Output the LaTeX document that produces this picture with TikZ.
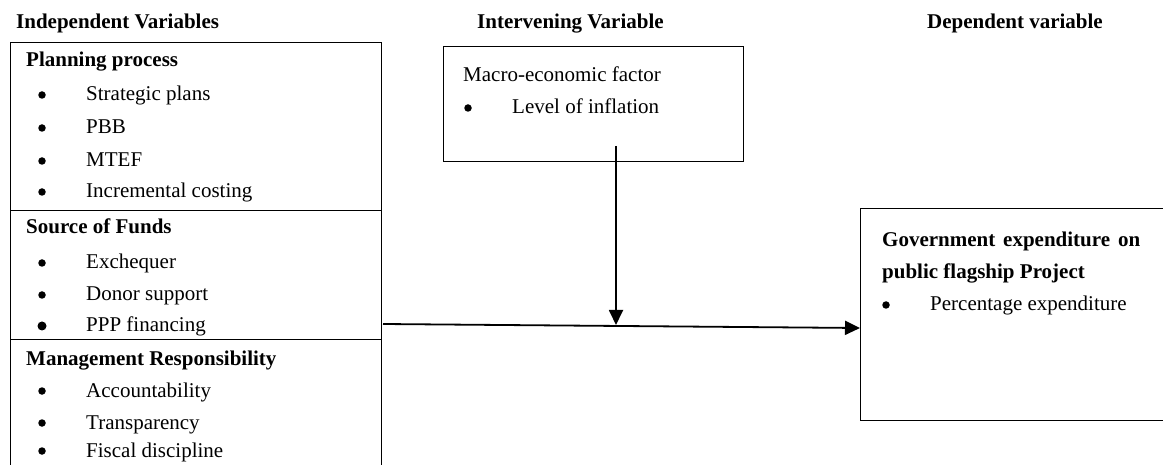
\documentclass[tikz,border=0pt]{standalone}
\usepackage{fontspec}
\setmainfont{Liberation Serif}
\usetikzlibrary{arrows.meta}
\begin{document}
\begin{tikzpicture}[x=1pt,y=-1pt,
  boxstyle/.style={draw=black,line width=1.3pt,minimum width=#1,inner sep=0pt,anchor=north west},
  txt/.style={anchor=base west,inner sep=0pt,font=\fontsize{21}{25}\selectfont},
  hd/.style={txt,font=\fontsize{21}{25}\selectfont\bfseries},
  bul/.style={circle,fill=black,inner sep=0pt,minimum size=7.5pt},
  bigbul/.style={circle,fill=black,inner sep=0pt,minimum size=9pt},
  conn/.style={line width=1.8pt,-{Triangle[length=15pt,width=14pt]}}]
\useasboundingbox (0,0) rectangle (1163,465);
\clip (0,0) rectangle (1163,465);
% headers
\node[hd] (h1) at (16,29) {Independent Variables};
\node[hd] (h2) at (477,29) {Intervening Variable};
\node[hd,anchor=base east] (h3) at (1103,29) {Dependent variable};
% left boxes
\node[boxstyle=371pt,minimum height=168pt] (plan) at (10,42) {};
\node[boxstyle=371pt,minimum height=129pt] (src) at (10,210) {};
\node[boxstyle=371pt,minimum height=150pt] (mgmt) at (10,339) {};
\node[hd] (t1) at (26,67) {Planning process};
\node[bul] (b1) at (42,95) {};\node[txt] (t2) at (86,101) {Strategic plans};
\node[bul] (b2) at (42,128) {};\node[txt] (t3) at (86,134) {PBB};
\node[bul] (b3) at (42,161) {};\node[txt] (t4) at (86,167) {MTEF};
\node[bul] (b4) at (42,192) {};\node[txt] (t5) at (86,198) {Incremental costing};
\node[hd] (t6) at (26,234) {Source of Funds};
\node[bul] (b5) at (42,263) {};\node[txt] (t7) at (86,269) {Exchequer};
\node[bul] (b6) at (42,295) {};\node[txt] (t8) at (86,301) {Donor support};
\node[bigbul] (b7) at (42,326) {};\node[txt] (t9) at (86,332) {PPP financing};
\node[hd] (t10) at (26,366) {Management Responsibility};
\node[bul] (b8) at (42,391) {};\node[txt] (t11) at (86,397) {Accountability};
\node[bul] (b9) at (42,423) {};\node[txt] (t12) at (86,429) {Transparency};
\node[bul] (b10) at (42,451) {};\node[txt] (t13) at (86,457) {Fiscal discipline};
% intervening box
\node[boxstyle=300pt,minimum height=115pt] (interv) at (443,46) {};
\node[txt] (t14) at (463,82) {Macro-economic factor};
\node[bul] (b11) at (468,108) {};\node[txt] (t15) at (512,114) {Level of inflation};
% dependent box
\node[boxstyle=320pt,minimum height=212pt] (dep) at (860,208) {};
\node[hd] (t16) at (882,247) {\makebox[258pt][s]{Government expenditure on}};
\node[hd] (t17) at (882,279) {public flagship Project};
\node[bul] (b12) at (886,305) {};\node[txt] (t18) at (930,311) {Percentage expenditure};
% connectors
\coordinate (vstart) at (616,146);
\coordinate (vend) at (616,325);
\coordinate (hstart) at (383,324);
\coordinate (hend) at (860,328);
\draw[conn] (hstart) -- (hend);
\draw[conn] (vstart) -- (vend);
\end{tikzpicture}
\end{document}
